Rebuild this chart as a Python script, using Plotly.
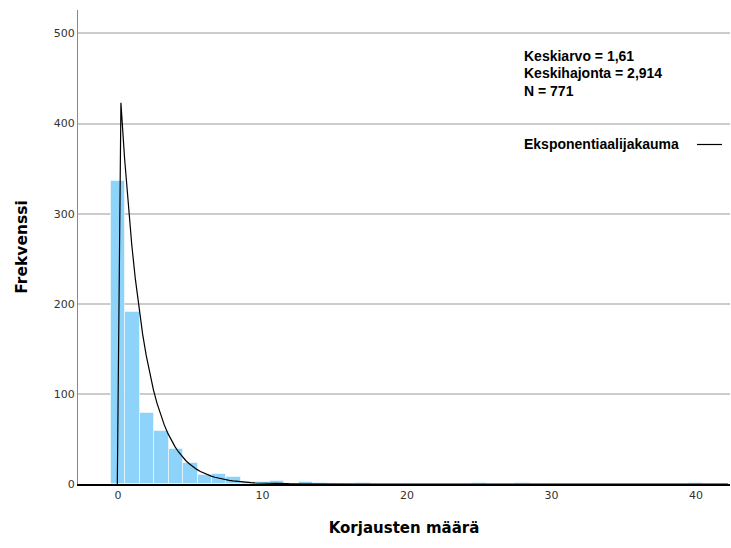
import numpy as np
import plotly.graph_objects as go

# Histogram data: value (number of corrections) -> frequency
values = list(range(0, 41))
counts = [336, 191, 79, 59, 39, 23, 10, 11, 8, 2,
          2, 3, 0, 2, 1, 0, 0, 1, 0, 0,
          0, 0, 0, 0, 0, 1, 0, 0, 1, 0,
          0, 0, 0, 0, 0, 0, 0, 0, 0, 0,
          1]

mean_val = 1.61
sd_val = 2.914
n_val = 771
bin_width = 1.0

# Fitted exponential curve (scaled to counts)
curve_x = np.arange(-0.05, 42.4, 0.25)
curve_y = np.where(curve_x < 0, 0.0,
                   n_val * bin_width / mean_val * np.exp(-np.clip(curve_x, 0, None) / mean_val))

W, H = 731, 548
L, R, T, B = 78, 1, 10, 64
PW, PH = W - L - R, H - T - B


def px(x):
    return (x - L) / PW


def py(y):
    return (H - B - y) / PH


fig = go.Figure()
fig.add_trace(go.Bar(
    x=values, y=counts, width=1.0,
    marker=dict(color="rgb(141,211,250)", line=dict(color="rgba(255,255,255,0.5)", width=1)),
    showlegend=False, hoverinfo="x+y"))
fig.add_trace(go.Scatter(
    x=curve_x, y=curve_y, mode="lines",
    line=dict(color="black", width=1.2), showlegend=False))

tick_font = dict(family="DejaVu Sans", size=11, color="#333333")
title_font = dict(family="DejaVu Sans", size=15.5, color="black", weight="bold")

fig.update_layout(
    width=W, height=H,
    margin=dict(l=L, r=R, t=T, b=B, pad=0),
    paper_bgcolor="white", plot_bgcolor="white",
    bargap=0,
    xaxis=dict(range=[-2.77, 42.35], tickvals=[0, 10, 20, 30, 40], showgrid=False,
               zeroline=False, showline=True, linecolor="black", linewidth=1.5,
               ticks="", tickfont=tick_font, automargin=False,
               title=dict(text="Korjausten määrä", font=dict(title_font, size=15), standoff=22)),
    yaxis=dict(range=[0, 526], tickvals=[0, 100, 200, 300, 400, 500], showgrid=True,
               gridcolor="#cccccc", gridwidth=1.5, zeroline=False, showline=True,
               linecolor="#888888", linewidth=1, ticks="", tickfont=tick_font, automargin=False,
               title=dict(text="Frekvenssi", font=title_font, standoff=22)),
)

stat_font = dict(family="Liberation Sans", size=14, color="black", weight="bold")
for i, txt in enumerate([f"Keskiarvo = {str(mean_val).replace('.', ',')}",
                         f"Keskihajonta = {str(sd_val).replace('.', ',')}",
                         f"N = {n_val}"]):
    fig.add_annotation(xref="paper", yref="paper", x=px(524), y=py(56 + 17.5 * i),
                       text=txt, showarrow=False, xanchor="left", yanchor="middle",
                       font=stat_font, xshift=-2)

fig.add_annotation(xref="paper", yref="paper", x=px(524), y=py(144),
                   text="Eksponentiaalijakauma", showarrow=False, xanchor="left", yanchor="middle",
                   font=stat_font, xshift=-2)
fig.add_shape(type="line", xref="paper", yref="paper",
              x0=px(697), x1=px(722), y0=py(144.5), y1=py(144.5),
              line=dict(color="black", width=1.2))

fig.write_html("out.html", config={"displayModeBar": False},
               post_script="document.body.style.margin='0';document.body.style.overflow='hidden';")
